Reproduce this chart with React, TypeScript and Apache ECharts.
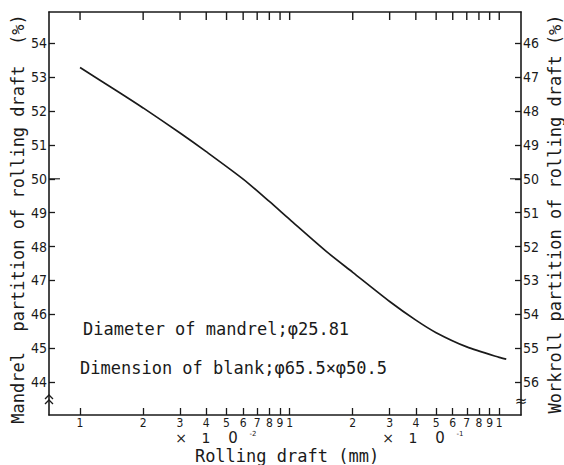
import React, { useEffect, useRef } from "react";
import * as echarts from "echarts";

// Rolling draft (mm) and mandrel partition of rolling draft (%)
const draftMM = [0.01, 0.015, 0.02, 0.03, 0.04, 0.06, 0.08, 0.1, 0.15, 0.2, 0.3, 0.4, 0.5, 0.7, 1.0, 1.08];
const mandrelPct = [53.28, 52.59, 52.09, 51.35, 50.8, 49.99, 49.33, 48.8, 47.85, 47.24, 46.38, 45.83, 45.46, 45.04, 44.73, 44.68];

const xTickValues = [
  0.01, 0.02, 0.03, 0.04, 0.05, 0.06, 0.07, 0.08, 0.09,
  0.1, 0.2, 0.3, 0.4, 0.5, 0.6, 0.7, 0.8, 0.9, 1.0,
];
const leftTicks = [44, 45, 46, 47, 48, 49, 50, 51, 52, 53, 54];
const rightTicks = [46, 47, 48, 49, 50, 51, 52, 53, 54, 55, 56];

const X_MIN = 0.00711;
const X_MAX = 1.27;
const Y_MIN = 43.03;
const Y_MAX = 54.92;

const MONO = "'DejaVu Sans Mono', 'Liberation Mono', monospace";
const COND = "'DejaVu Sans Condensed', 'Liberation Sans Narrow', 'DejaVu Sans', sans-serif";
const INK = "#1a1a1a";

const lg = (v: number) => Math.log10(v);

export default function App() {
  const ref = useRef<HTMLDivElement>(null);
  useEffect(() => {
    if (!ref.current) return;
    const chart = echarts.init(ref.current, null, { renderer: "svg" });
    const xLogTicks = xTickValues.map(lg);
    const digitLabel = (v: number) => {
      const raw = Math.pow(10, v);
      const p = Math.floor(v + 1e-9);
      return String(Math.round(raw / Math.pow(10, p)));
    };
    const option: any = {
      animation: false,
      backgroundColor: "#ffffff",
      grid: { left: 49, right: 43, top: 12, bottom: 50, containLabel: false },
      xAxis: [
        {
          type: "value",
          position: "bottom",
          min: lg(X_MIN),
          max: lg(X_MAX),
          splitLine: { show: false },
          axisLine: { show: true, onZero: false, lineStyle: { color: INK, width: 1.6 } },
          axisTick: { show: true, inside: true, length: 7, customValues: xLogTicks, lineStyle: { color: INK, width: 1.3 } },
          axisLabel: {
            show: true,
            customValues: xLogTicks,
            formatter: digitLabel,
            margin: 2,
            color: INK,
            fontSize: 12,
            lineHeight: 12,
            fontFamily: COND,
          },
        },
        {
          type: "value",
          position: "top",
          min: lg(X_MIN),
          max: lg(X_MAX),
          splitLine: { show: false },
          axisLine: { show: true, onZero: false, lineStyle: { color: INK, width: 1.6 } },
          axisTick: { show: false },
          axisLabel: { show: false },
        },
      ],
      yAxis: [
        {
          type: "value",
          position: "left",
          min: Y_MIN,
          max: Y_MAX,
          splitLine: { show: false },
          axisLine: { show: true, onZero: false, lineStyle: { color: INK, width: 1.6 } },
          axisTick: { show: true, inside: true, length: 6, customValues: leftTicks, lineStyle: { color: INK, width: 1.3 } },
          axisLabel: { show: true, customValues: leftTicks, margin: 2, color: INK, fontSize: 14, fontFamily: COND },
        },
        {
          type: "value",
          position: "right",
          inverse: true,
          min: 100 - Y_MAX,
          max: 100 - Y_MIN,
          splitLine: { show: false },
          axisLine: { show: true, onZero: false, lineStyle: { color: INK, width: 1.6 } },
          axisTick: { show: true, inside: true, length: 6, customValues: rightTicks, lineStyle: { color: INK, width: 1.3 } },
          axisLabel: { show: true, customValues: rightTicks, margin: 2, color: INK, fontSize: 14, fontFamily: COND },
        },
      ],
      series: [
        {
          type: "line",
          xAxisIndex: 0,
          yAxisIndex: 0,
          smooth: 0.25,
          symbol: "none",
          lineStyle: { color: INK, width: 1.7 },
          data: draftMM.map((d, i) => [lg(d), mandrelPct[i]]),
        },
        {
          // tick marks hanging from the top frame, placed through the axis scale
          type: "custom",
          xAxisIndex: 0,
          yAxisIndex: 0,
          silent: true,
          clip: false,
          z: 10,
          data: xLogTicks.map((lx) => [lx, Y_MAX]),
          renderItem: (params: any, api: any) => {
            const p = api.coord([api.value(0), api.value(1)]);
            return {
              type: "line",
              shape: { x1: p[0], y1: p[1], x2: p[0], y2: p[1] + 8 },
              style: { stroke: INK, lineWidth: 1.4 },
            };
          },
        },
        {
          // longer tick at 50 % on both side axes
          type: "scatter",
          xAxisIndex: 0,
          yAxisIndex: 0,
          silent: true,
          clip: false,
          symbol: "rect",
          symbolSize: [11, 1.4],
          itemStyle: { color: INK },
          data: [
            { value: [lg(X_MIN), 50], symbolOffset: [5.5, 0] },
            { value: [lg(X_MAX), 50], symbolOffset: [-5.5, 0] },
          ],
        },
      ],
      graphic: [
        {
          type: "text",
          x: 18,
          y: 219,
          rotation: Math.PI / 2,
          style: { text: "Mandrel  partition of rolling draft  (%)", font: `17px ${MONO}`, fill: INK, align: "center", verticalAlign: "middle" },
        },
        {
          type: "text",
          x: 555,
          y: 214,
          rotation: Math.PI / 2,
          style: { text: "Workroll partition of rolling draft (%)", font: `17px ${MONO}`, fill: INK, align: "center", verticalAlign: "middle" },
        },
        {
          type: "text",
          x: 287,
          y: 456,
          style: { text: "Rolling draft (mm)", font: `17px ${MONO}`, fill: INK, align: "center", verticalAlign: "middle" },
        },
        {
          type: "text",
          x: 83,
          y: 329,
          style: { text: "Diameter of mandrel;φ25.81", font: `17px ${MONO}`, fill: INK, align: "left", verticalAlign: "middle" },
        },
        {
          type: "text",
          x: 80,
          y: 368,
          style: { text: "Dimension of blank;φ65.5×φ50.5", font: `17px ${MONO}`, fill: INK, align: "left", verticalAlign: "middle" },
        },
        // ×10^-2
        { type: "text", x: 181, y: 438, style: { text: "×", font: `14px 'DejaVu Sans'`, fill: INK, align: "center", verticalAlign: "middle" } },
        { type: "text", x: 206, y: 438, style: { text: "1", font: `14px 'DejaVu Sans'`, fill: INK, align: "center", verticalAlign: "middle" } },
        { type: "text", x: 233, y: 438, style: { text: "0", font: `15px 'DejaVu Sans'`, fill: INK, align: "center", verticalAlign: "middle" } },
        { type: "text", x: 253, y: 434, style: { text: "-2", font: `7px 'DejaVu Sans'`, fill: INK, align: "center", verticalAlign: "middle" } },
        // ×10^-1
        { type: "text", x: 388, y: 438, style: { text: "×", font: `14px 'DejaVu Sans'`, fill: INK, align: "center", verticalAlign: "middle" } },
        { type: "text", x: 413, y: 438, style: { text: "1", font: `14px 'DejaVu Sans'`, fill: INK, align: "center", verticalAlign: "middle" } },
        { type: "text", x: 440, y: 438, style: { text: "0", font: `15px 'DejaVu Sans'`, fill: INK, align: "center", verticalAlign: "middle" } },
        { type: "text", x: 460, y: 434, style: { text: "-1", font: `7px 'DejaVu Sans'`, fill: INK, align: "center", verticalAlign: "middle" } },
        // axis break marks
        { type: "polyline", shape: { points: [[45, 399], [49, 395], [53, 399]] }, style: { stroke: INK, lineWidth: 1.3, fill: "none" } },
        { type: "polyline", shape: { points: [[45, 404], [49, 400], [53, 404]] }, style: { stroke: INK, lineWidth: 1.3, fill: "none" } },
        { type: "rect", shape: { x: 517, y: 396, width: 8, height: 10 }, style: { fill: "#ffffff" } },
        { type: "text", x: 521, y: 401, style: { text: "≈", font: `15px 'DejaVu Sans'`, fill: INK, align: "center", verticalAlign: "middle" } },
      ],
    };
    chart.setOption(option);
    return () => chart.dispose();
  }, []);
  return (
    <div
      ref={ref}
      style={{ position: "fixed", left: 0, top: 0, width: 564, height: 465, background: "#fff" }}
    />
  );
}
